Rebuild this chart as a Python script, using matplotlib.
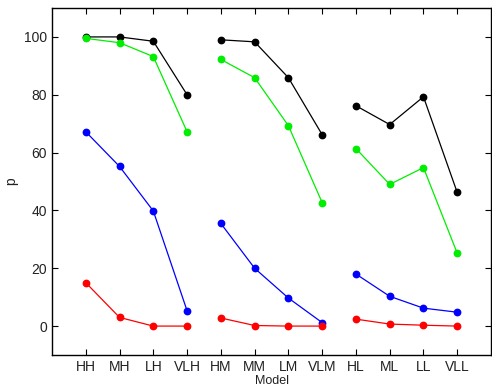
import matplotlib.pyplot as plt
import numpy as np

plt.rcParams['font.family'] = ['Liberation Sans', 'DejaVu Sans']

models = ['HH', 'MH', 'LH', 'VLH', 'HM', 'MM', 'LM', 'VLM', 'HL', 'ML', 'LL', 'VLL']
black = [100, 100, 98.5, 80, 99, 98.3, 85.9, 66.2, 76.2, 69.7, 79.3, 46.2]
green = [99.5, 98, 93.2, 67.2, 92.2, 85.9, 69.3, 42.7, 61.4, 49.0, 54.8, 25.2]
blue = [67.2, 55.2, 39.8, 5.3, 35.5, 20.0, 9.7, 1.2, 18.0, 10.3, 6.2, 4.8]
red = [15.0, 3.0, 0.0, 0.0, 2.8, 0.2, 0.0, 0.0, 2.4, 0.7, 0.3, 0.0]

series = [(black, 'k'), (green, '#00ee00'), (blue, 'b'), (red, 'r')]

fig = plt.figure(figsize=(4.92, 3.87), dpi=100)
ax = fig.add_axes([52/492, 32/387, 439/492, 347/387])

x = np.arange(1, len(models) + 1)
for vals, c in series:
    vals = np.array(vals)
    # lines are broken between the H, M and L groups
    for g in range(3):
        s = slice(4*g, 4*g + 4)
        ax.plot(x[s], vals[s], '-o', color=c, lw=0.9, ms=4.6, mec=c, mfc=c)

ax.set_xlim(0, 13)
ax.set_ylim(-10, 110)
ax.set_xticks(x)
ax.set_xticklabels(models)
ax.set_yticks([0, 20, 40, 60, 80, 100])
ax.tick_params(direction='in', top=True, right=True, labelsize=10, length=4,
               labelcolor='#222222')
ax.set_xlabel('Model', fontsize=9, labelpad=1, color='#222222')
ax.set_ylabel('p', fontsize=10, color='#222222')
for sp in ax.spines.values():
    sp.set_linewidth(1.0)

plt.savefig('out.png', dpi=100)
